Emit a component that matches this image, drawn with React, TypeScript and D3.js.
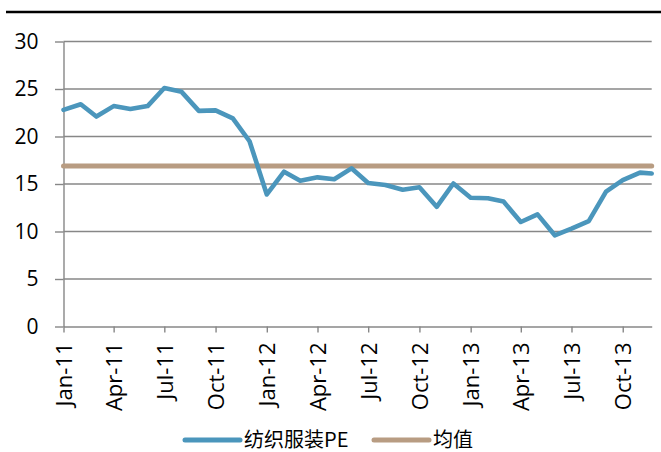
import React, { useRef, useEffect } from 'react';
import * as d3 from 'd3';

// monthly PE of the textile & apparel sector, Jan-11 .. Nov-13, plus the latest reading
const peValues = [
  22.8, 23.4, 22.1, 23.2, 22.9, 23.2, 25.1, 24.7, 22.7, 22.75, 21.9, 19.5,
  13.9, 16.3, 15.35, 15.7, 15.5, 16.65, 15.1, 14.9, 14.4, 14.65, 12.6, 15.05,
  13.55, 13.5, 13.15, 11.0, 11.8, 9.6, 10.3, 11.1, 14.2, 15.4, 16.2, 16.1,
];
const firstMonth = '2011-01-01';
const lastReading = '2013-11-22';
const meanValue = 16.9;
const yTicks = [0, 5, 10, 15, 20, 25, 30];
const seriesNames = ['纺织服装PE', '均值'];

const W = 661;
const H = 452;
const margin = { top: 41.5, right: 9.3, bottom: 125.5, left: 63.5 };
const labelFont = '"Open Sans", "Liberation Sans", sans-serif';

export default function App() {
  const svgRef = useRef<SVGSVGElement>(null);

  useEffect(() => {
    const svg = d3.select(svgRef.current);
    svg.selectAll('*').remove();

    const parse = d3.timeParse('%Y-%m-%d');
    const start = parse(firstMonth)!;
    const end = parse(lastReading)!;
    const months = d3.timeMonth.range(start, end);
    const dates = [...months, end];
    const points = peValues.map((v, i) => ({ date: dates[i], value: v }));

    const x = d3.scaleTime()
      .domain([start, end])
      .range([margin.left, W - margin.right]);

    const y = d3.scaleLinear()
      .domain([0, 30])
      .range([H - margin.bottom, margin.top]);

    // top rule
    svg.append('line')
      .attr('x1', 6).attr('x2', W)
      .attr('y1', 12).attr('y2', 12)
      .attr('stroke', '#000')
      .attr('stroke-width', 2.3);

    // gridlines
    svg.append('g')
      .selectAll('line')
      .data(yTicks.filter(d => d > 0))
      .join('line')
      .attr('x1', margin.left)
      .attr('x2', W - margin.right)
      .attr('y1', d => y(d))
      .attr('y2', d => y(d))
      .attr('stroke', '#878787')
      .attr('stroke-width', 1.4);

    // y axis
    svg.append('g')
      .attr('transform', `translate(${margin.left},0)`)
      .call(d3.axisLeft(y).tickValues(yTicks).tickSize(8.5).tickPadding(16.5).tickSizeOuter(0))
      .call(g => g.select('.domain').attr('stroke', '#878787').attr('stroke-width', 1.4))
      .call(g => g.selectAll('.tick line').attr('stroke', '#878787').attr('stroke-width', 1.4))
      .call(g => g.selectAll('.tick text')
        .attr('fill', '#000')
        .attr('font-size', 21)
        .attr('font-family', labelFont));

    // x axis
    const xTicks = d3.timeMonth.every(3)!.range(start, end);
    svg.append('g')
      .attr('transform', `translate(0,${H - margin.bottom})`)
      .call(d3.axisBottom(x).tickValues(xTicks).tickFormat(d3.timeFormat('%b-%y') as any).tickSize(6).tickSizeOuter(0))
      .call(g => g.select('.domain').attr('stroke', '#878787').attr('stroke-width', 1.4))
      .call(g => g.selectAll('.tick line').attr('stroke', '#878787').attr('stroke-width', 1.4))
      .call(g => g.selectAll('.tick text')
        .attr('fill', '#000')
        .attr('font-size', 22)
        .attr('font-family', labelFont)
        .attr('text-anchor', 'end')
        .attr('transform', 'rotate(-90)')
        .attr('x', -16)
        .attr('y', 0)
        .attr('dy', '0.36em'));

    // mean line
    svg.append('line')
      .attr('x1', x(start))
      .attr('x2', x(end))
      .attr('y1', y(meanValue))
      .attr('y2', y(meanValue))
      .attr('stroke', '#b89c82')
      .attr('stroke-width', 5)
      .attr('stroke-linecap', 'round');

    // PE line
    const line = d3.line<{ date: Date; value: number }>()
      .x(d => x(d.date))
      .y(d => y(d.value));

    svg.append('path')
      .datum(points)
      .attr('fill', 'none')
      .attr('stroke', '#4b96bc')
      .attr('stroke-width', 4.6)
      .attr('stroke-linejoin', 'round')
      .attr('stroke-linecap', 'round')
      .attr('d', line);

    // legend
    const legend = svg.append('g').attr('transform', 'translate(0,440)');
    const items = [
      { name: seriesNames[0], color: '#4b96bc', x0: 185 },
      { name: seriesNames[1], color: '#b89c82', x0: 374 },
    ];
    items.forEach(it => {
      legend.append('line')
        .attr('x1', it.x0).attr('x2', it.x0 + 55)
        .attr('y1', 0).attr('y2', 0)
        .attr('stroke', it.color)
        .attr('stroke-width', 5)
        .attr('stroke-linecap', 'round');
      legend.append('text')
        .attr('x', it.x0 + 59)
        .attr('y', 0)
        .attr('dy', '0.36em')
        .attr('font-size', 20)
        .attr('font-family', '"Noto Sans CJK SC", "Open Sans", sans-serif')
        .attr('fill', '#000')
        .text(it.name);
    });
  }, []);

  return (
    <svg
      ref={svgRef}
      width={W}
      height={H}
      style={{ position: 'absolute', left: 0, top: 0, background: '#fff' }}
    />
  );
}
